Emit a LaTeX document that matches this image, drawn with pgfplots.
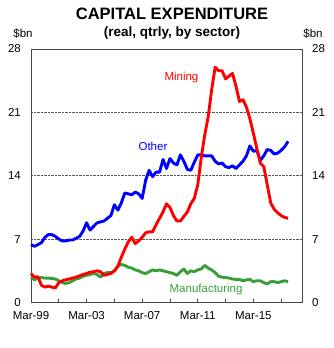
\documentclass[border=0pt]{standalone}
\usepackage{fontspec}
\setmainfont{Liberation Sans}
\usepackage{pgfplots}
\pgfplotsset{compat=1.18}
\definecolor{mgreen}{RGB}{56,158,56}
\definecolor{mblue}{RGB}{0,0,255}
\definecolor{mred}{RGB}{255,0,0}
\definecolor{frame}{RGB}{70,70,70}
\begin{document}
\begin{tikzpicture}
\useasboundingbox (0pt,0pt) rectangle (333pt,348pt);
\node[font=\fontsize{16.5}{18}\selectfont\bfseries] at (172pt,334pt) {CAPITAL EXPENDITURE};
\node[font=\fontsize{13.5}{15}\selectfont\bfseries] at (172pt,315pt) {(real, qtrly, by sector)};
\node[font=\fontsize{11.5}{13}\selectfont, inner sep=0pt] at (23pt,314pt) {\$bn};
\node[font=\fontsize{11.5}{13}\selectfont, inner sep=0pt] at (313pt,314pt) {\$bn};
\begin{axis}[
  at={(31pt,45.5pt)}, anchor=south west,
  scale only axis, width=271pt, height=253.5pt,
  xmin=0, xmax=78, ymin=0, ymax=28,
  axis line style={draw=frame, line width=0.8pt},
  xtick={0,8,...,72},
  xticklabels={Mar-99,,Mar-03,,Mar-07,,Mar-11,,Mar-15,},
  xtick pos=bottom,
  tick align=inside,
  major tick length=4pt,
  tick style={draw=frame, line width=0.7pt},
  ytick={0,7,14,21,28},
  ytick style={draw=none},
  yticklabel pos=left,
  ymajorgrids,
  grid style={densely dotted, draw=black!65, line width=0.8pt},
  /pgf/number format/assume math mode=true,
  tick label style={font=\fontsize{11.5}{13}\selectfont, inner sep=0pt},
  yticklabel style={anchor=east, xshift=-10pt},
  xticklabel style={anchor=north, yshift=-9pt},
  clip=false,
]
\addplot[mblue, line width=2.9pt, line join=round] coordinates {
(0,6.4)(1,6.2)(2,6.4)(3,6.6)(4,7.2)(5,7.5)(6,7.5)(7,7.3)(8,7.0)(9,6.8)
(10,6.8)(11,6.9)(12,6.9)(13,7.1)(14,7.3)(15,7.9)(16,8.8)(17,8.0)(18,8.4)(19,8.8)
(20,8.9)(21,9.0)(22,9.3)(23,9.6)(24,10.8)(25,10.2)(26,11.0)(27,12.1)(28,12.0)(29,11.9)
(30,12.2)(31,12.0)(32,11.5)(33,13.5)(34,14.6)(35,13.9)(36,14.4)(37,14.4)(38,15.8)(39,14.8)
(40,15.9)(41,15.4)(42,15.2)(43,16.3)(44,15.6)(45,14.7)(46,14.6)(47,15.5)(48,16.3)(49,16.3)
(50,16.2)(51,16.2)(52,16.2)(53,15.6)(54,15.3)(55,15.4)(56,15.0)(57,14.9)(58,15.1)(59,14.8)
(60,15.2)(61,15.6)(62,16.2)(63,17.3)(64,16.7)(65,16.8)(66,15.7)(67,16.2)(68,16.9)(69,16.8)
(70,16.4)(71,16.5)(72,16.8)(73,17.2)(74,17.8)
};
\addplot[mgreen, line width=2.9pt, line join=round] coordinates {
(0,2.8)(1,2.5)(2,2.7)(3,2.75)(4,2.7)(5,2.7)(6,2.65)(7,2.6)(8,2.4)(9,2.2)
(10,2.1)(11,2.2)(12,2.4)(13,2.6)(14,2.7)(15,2.9)(16,3.0)(17,3.1)(18,3.2)(19,3.1)
(20,2.8)(21,3.2)(22,3.3)(23,3.3)(24,3.5)(25,4.0)(26,4.2)(27,4.1)(28,3.9)(29,3.8)
(30,3.6)(31,3.5)(32,3.3)(33,3.2)(34,3.4)(35,3.6)(36,3.5)(37,3.6)(38,3.5)(39,3.4)
(40,3.3)(41,3.2)(42,3.0)(43,3.4)(44,3.7)(45,3.2)(46,3.5)(47,3.4)(48,3.6)(49,3.7)
(50,4.1)(51,3.8)(52,3.6)(53,3.3)(54,2.9)(55,2.8)(56,2.75)(57,2.7)(58,2.6)(59,2.55)
(60,2.55)(61,2.4)(62,2.5)(63,2.55)(64,2.3)(65,2.4)(66,2.4)(67,2.2)(68,2.05)(69,2.3)
(70,2.3)(71,2.2)(72,2.3)(73,2.4)(74,2.3)
};
\addplot[mred, line width=2.9pt, line join=round] coordinates {
(0,3.2)(1,2.8)(2,2.85)(3,1.9)(4,1.7)(5,1.8)(6,1.7)(7,1.6)(8,2.2)(9,2.4)
(10,2.5)(11,2.6)(12,2.7)(13,2.8)(14,2.95)(15,3.1)(16,3.2)(17,3.35)(18,3.4)(19,3.5)
(20,3.4)(21,3.0)(22,3.1)(23,3.2)(24,3.5)(25,4.0)(26,5.0)(27,5.9)(28,6.7)(29,7.2)
(30,6.5)(31,6.8)(32,7.2)(33,7.7)(34,7.8)(35,7.8)(36,8.6)(37,9.3)(38,10.0)(39,10.9)
(40,10.5)(41,9.6)(42,9.0)(43,9.0)(44,9.5)(45,10.0)(46,10.9)(47,11.5)(48,13.0)(49,16.0)
(50,18.5)(51,20.5)(52,23.5)(53,26.0)(54,25.6)(55,25.6)(56,24.7)(57,25.0)(58,25.3)(59,23.9)
(60,22.2)(61,22.4)(62,21.6)(63,20.3)(64,18.7)(65,17.0)(66,15.4)(67,15.0)(68,13.0)(69,11.0)
(70,10.3)(71,9.9)(72,9.6)(73,9.4)(74,9.3)
};
\node[mred, font=\fontsize{11.5}{13}\selectfont] at (axis cs:43.3,24.9) {Mining};
\node[mblue, font=\fontsize{11.5}{13}\selectfont] at (axis cs:35.1,17.2) {Other};
\node[mgreen, font=\fontsize{11.5}{13}\selectfont] at (axis cs:50.4,1.4) {Manufacturing};
\end{axis}
\begin{axis}[
  at={(31pt,45.5pt)}, anchor=south west,
  scale only axis, width=271pt, height=253.5pt,
  xmin=0, xmax=78, ymin=0, ymax=28,
  hide x axis,
  axis y line*=right,
  axis line style={draw=frame, line width=0.8pt},
  ytick={0,7,14,21,28},
  ytick style={draw=none},
  /pgf/number format/assume math mode=true,
  tick label style={font=\fontsize{11.5}{13}\selectfont, inner sep=0pt},
  yticklabel style={anchor=west, xshift=10pt},
]
\addplot[draw=none] coordinates {(0,0)};
\end{axis}
\end{tikzpicture}
\end{document}
